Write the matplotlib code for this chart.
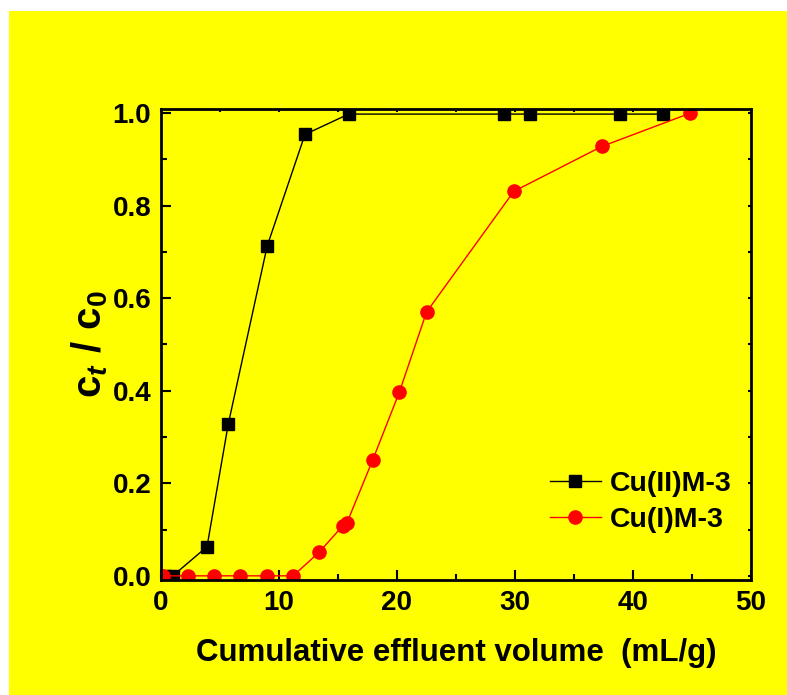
import matplotlib.pyplot as plt
from matplotlib.patches import Rectangle
from matplotlib.ticker import MultipleLocator

plt.rcParams['font.family'] = ['Liberation Sans', 'DejaVu Sans']
plt.rcParams['font.weight'] = 'bold'
plt.rcParams['mathtext.fontset'] = 'custom'
plt.rcParams['mathtext.rm'] = 'Liberation Sans:bold'
plt.rcParams['mathtext.it'] = 'Liberation Sans:bold:italic'
plt.rcParams['mathtext.bf'] = 'Liberation Sans:bold'

# Cu(II)M-3 breakthrough
vol_cu2 = [0.3, 1.0, 3.9, 5.7, 9.0, 12.2, 15.9, 29.1, 31.3, 38.9, 42.5]
ratio_cu2 = [0.0, 0.0, 0.063, 0.328, 0.713, 0.954, 0.998, 0.998, 0.998, 0.998, 0.998]

# Cu(I)M-3 breakthrough
vol_cu1 = [0.15, 2.3, 4.5, 6.7, 9.0, 11.2, 13.4, 15.4, 15.75, 17.95, 20.2, 22.5, 29.9, 37.35, 44.85]
ratio_cu1 = [0.0, 0.0, 0.0, 0.0, 0.0, 0.0, 0.051, 0.108, 0.114, 0.251, 0.397, 0.570, 0.831, 0.928, 1.0]

fig = plt.figure(figsize=(7.87, 6.95), dpi=100, facecolor='white')
fig.patches.append(Rectangle((9 / 787, 0), 1, 1 - 11 / 695, transform=fig.transFigure,
                             facecolor='#ffff00', edgecolor='none', zorder=-10))

ax = fig.add_axes([161 / 787, 1 - 580 / 695, 590 / 787, 471 / 695])
ax.set_facecolor('#ffff00')

ax.plot(vol_cu2, ratio_cu2, color='black', lw=1, marker='s', ms=8, label='Cu(II)M-3')
ax.plot(vol_cu1, ratio_cu1, color='red', lw=1, marker='o', ms=9.5, label='Cu(I)M-3')

ax.set_xlim(0, 50)
ax.set_ylim(-0.009, 1.009)
ax.xaxis.set_major_locator(MultipleLocator(10))
ax.xaxis.set_minor_locator(MultipleLocator(5))
ax.yaxis.set_major_locator(MultipleLocator(0.2))
ax.yaxis.set_minor_locator(MultipleLocator(0.1))
ax.yaxis.set_major_formatter(plt.FormatStrFormatter('%.1f'))

ax.tick_params(which='both', direction='in', width=1.5)
ax.tick_params(which='major', length=7, labelsize=20, pad=7)
ax.tick_params(which='minor', length=4)
# faint short ticks along the top and right edges
ax.tick_params(which='both', top=True, right=True)
for t in ax.xaxis.get_major_ticks() + ax.xaxis.get_minor_ticks():
    t.tick2line.set_markersize(2)
for t in ax.yaxis.get_major_ticks() + ax.yaxis.get_minor_ticks():
    t.tick2line.set_markersize(2)
for side in ax.spines.values():
    side.set_linewidth(2)

ax.set_xlabel('Cumulative effluent volume  (mL/g)', fontsize=22.5, fontweight='bold', labelpad=16)
ax.set_ylabel(r'$\mathrm{c}_t\ /\ \mathrm{c}_0$', fontsize=29, labelpad=2)

leg = ax.legend(loc='lower right', bbox_to_anchor=(1.01, 0.045), frameon=False,
                fontsize=20.5, handlelength=1.8, handletextpad=0.3, labelspacing=0.35)

fig.savefig('out.png', dpi=100, facecolor=fig.get_facecolor())
